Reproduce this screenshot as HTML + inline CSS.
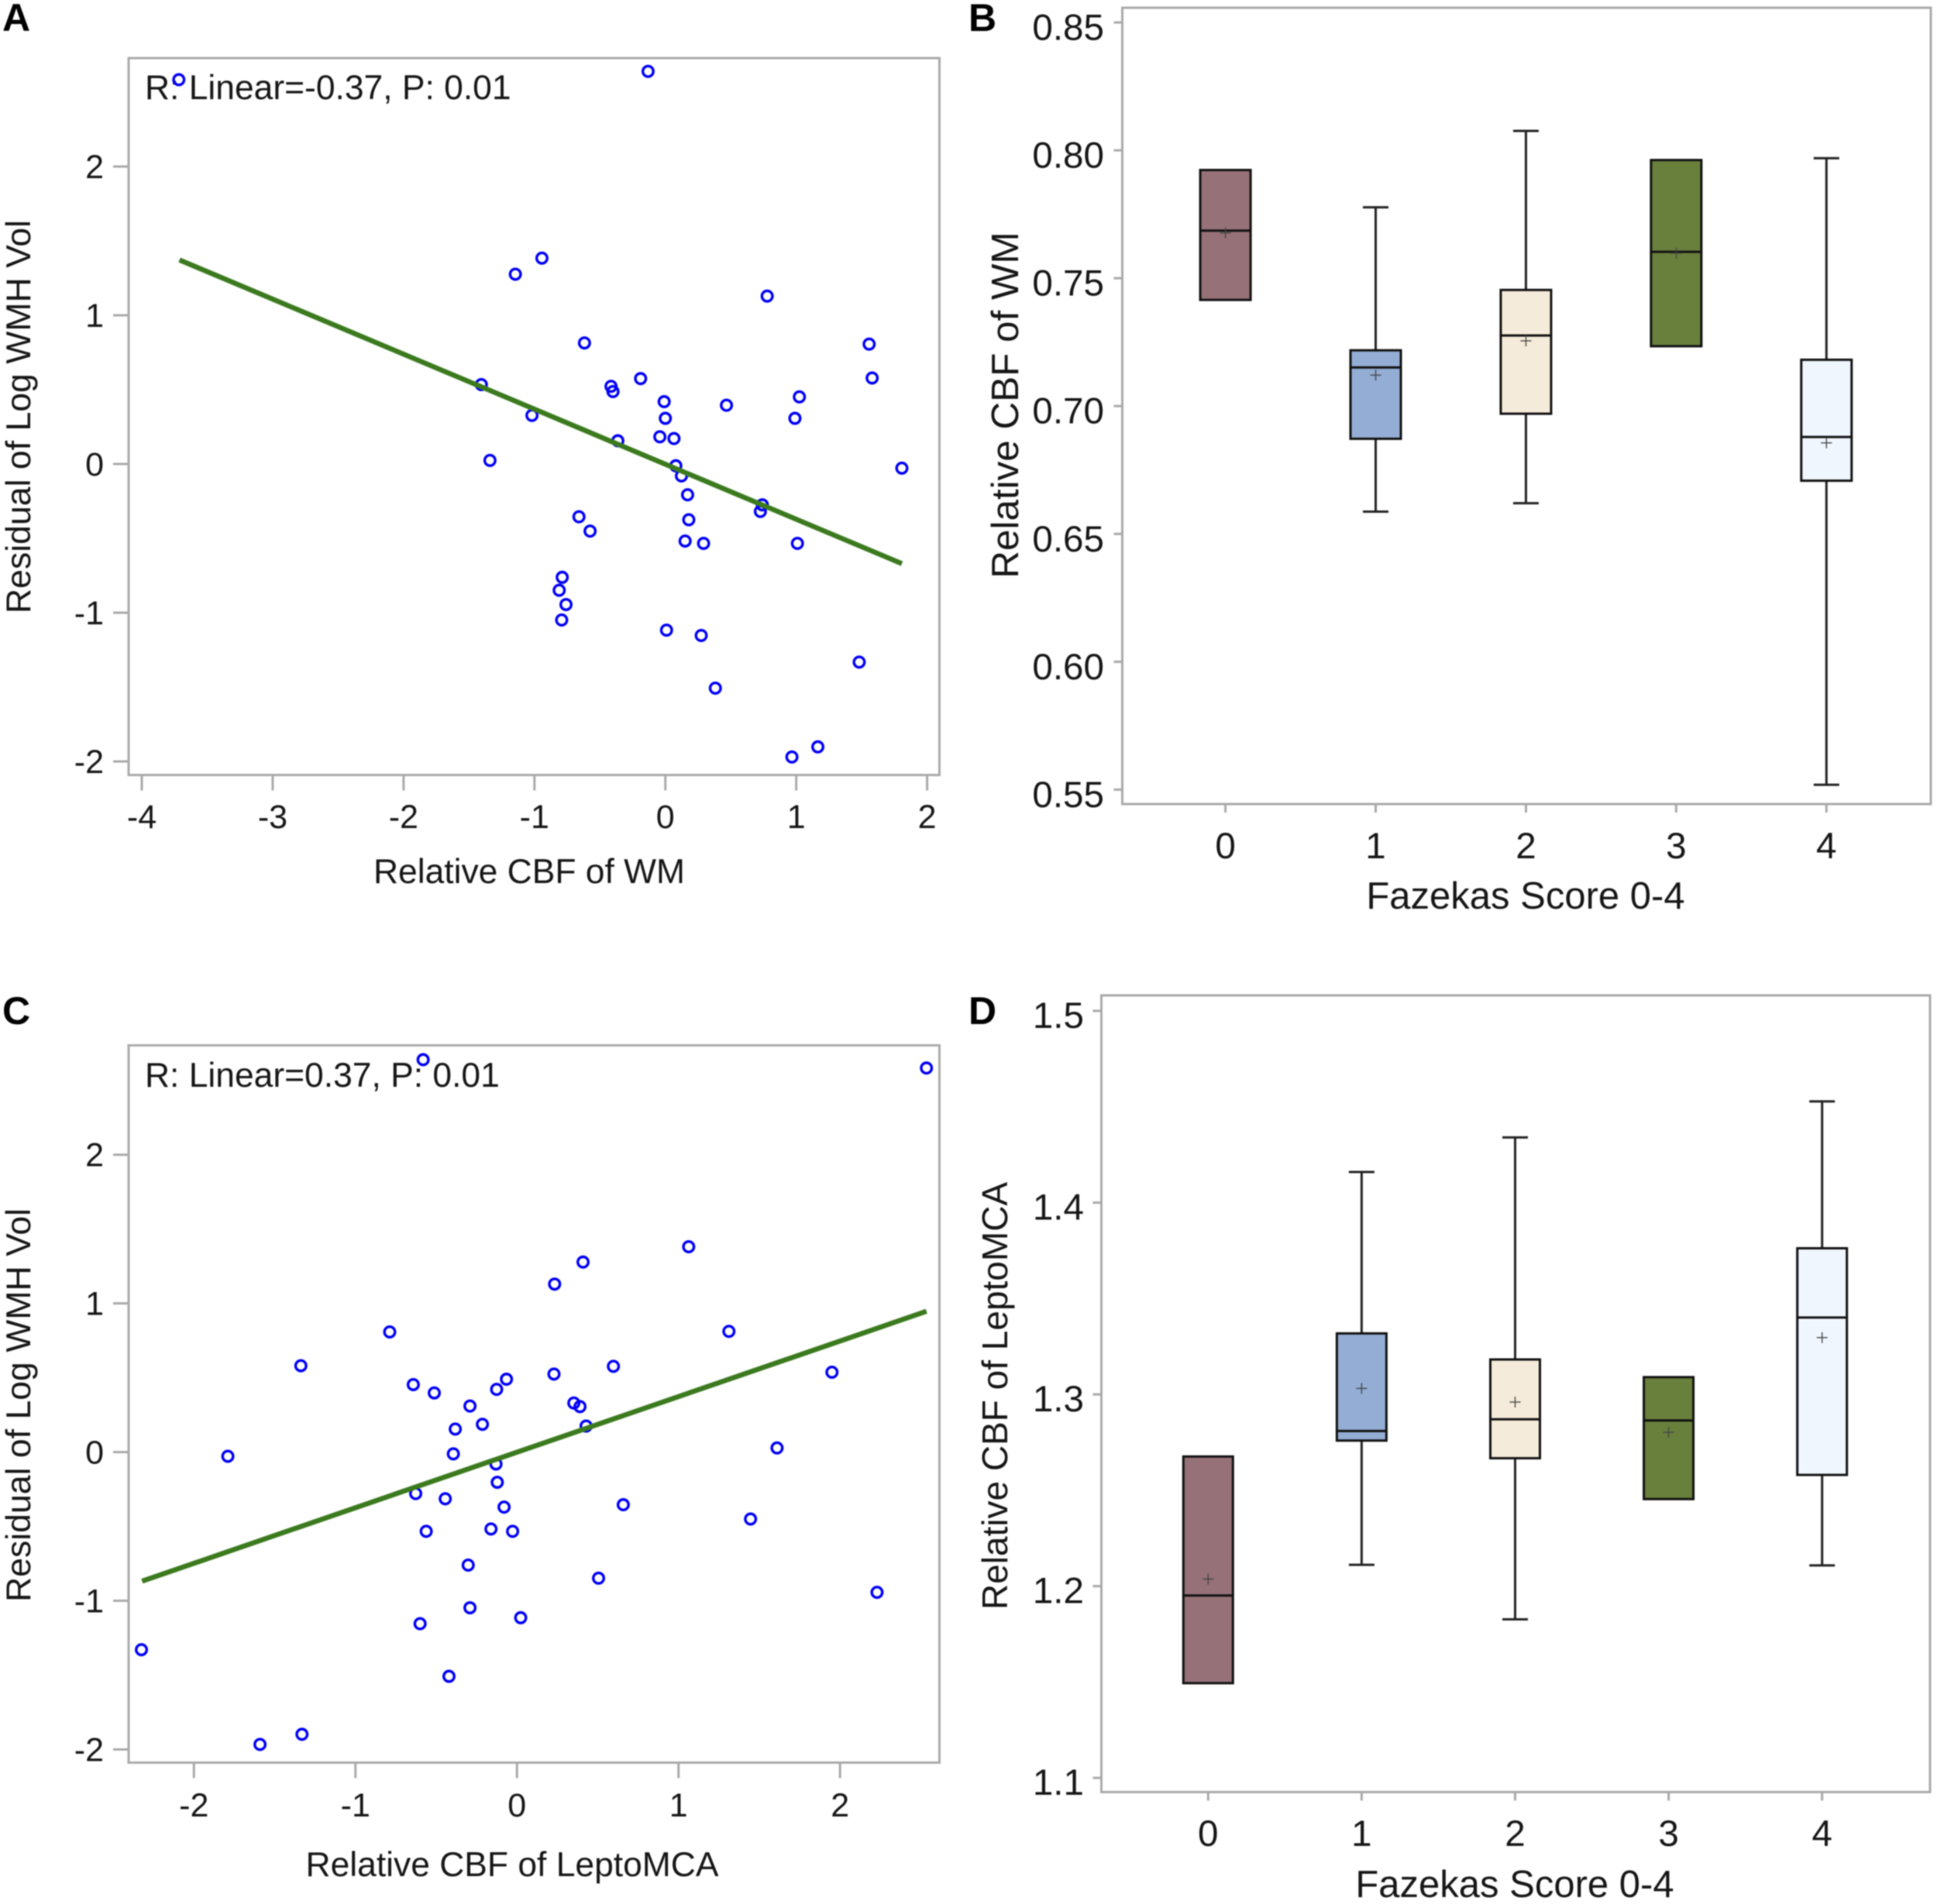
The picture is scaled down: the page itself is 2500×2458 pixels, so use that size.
<!DOCTYPE html>
<html lang="en">
<head>
<meta charset="utf-8">
<title>Relative CBF and white matter hyperintensity charts</title>
<style>
html,body{margin:0;padding:0;background:#fff;}
svg{display:block;filter:blur(0.7px);}
text{font-family:"Liberation Sans",Arial,sans-serif;fill:#161616;}
.letter{font-weight:bold;font-size:50px;fill:#000;}
</style>
</head>
<body>
<svg id="fig" xmlns="http://www.w3.org/2000/svg" width="2500" height="2458" viewBox="0 0 2500 2458">
  <rect x="0" y="0" width="2500" height="2458" fill="#ffffff"/>
  <text class="letter" x="3" y="40">A</text>
  <text class="letter" x="1250" y="40">B</text>
  <text class="letter" x="3" y="1322">C</text>
  <text class="letter" x="1250" y="1322">D</text>

  <text x="187" y="128" font-size="44.4">R: Linear=-0.37, P: 0.01</text>
  <text x="683" y="1140" font-size="44.4" text-anchor="middle">Relative CBF of WM</text>
  <text transform="translate(39 538) rotate(-90)" font-size="44.6" text-anchor="middle">Residual of Log WMH Vol</text>

  <text x="1969" y="1173" font-size="49" text-anchor="middle">Fazekas Score 0-4</text>
  <text transform="translate(1314 523) rotate(-90)" font-size="49.4" text-anchor="middle">Relative CBF of WM</text>

  <text x="187" y="1403" font-size="44.4">R: Linear=0.37, P: 0.01</text>
  <text x="661" y="2422" font-size="44.4" text-anchor="middle">Relative CBF of LeptoMCA</text>
  <text transform="translate(39 1814) rotate(-90)" font-size="44.6" text-anchor="middle">Residual of Log WMH Vol</text>

  <text x="1955" y="2449" font-size="49" text-anchor="middle">Fazekas Score 0-4</text>
  <text transform="translate(1300 1802) rotate(-90)" font-size="46" text-anchor="middle">Relative CBF of LeptoMCA</text>
</svg>
<script>
// Panel A data
var aXTicks = [-4, -3, -2, -1, 0, 1, 2];
var aYTicks = [-2, -1, 0, 1, 2];
var aPointsX = [-3.717,-0.132,-0.943,-1.146,0.778,-0.618,1.557,1.58,-0.189,-1.406,-0.415,-0.40,-0.009,1.024,0.467,0,0.99,-1.019,-0.042,0.066,-0.363,-1.34,0.08,1.807,0.123,0.17,0.741,0.726,-0.66,-0.575,0.179,0.151,0.292,1.009,-0.788,-0.811,-0.759,-0.792,0.009,0.274,1.481,0.382,1.165,0.967];
var aPointsY = [2.584,2.64,1.384,1.276,1.129,0.814,0.806,0.578,0.574,0.534,0.522,0.487,0.419,0.451,0.395,0.307,0.307,0.327,0.183,0.171,0.156,0.024,-0.012,-0.028,-0.08,-0.207,-0.275,-0.319,-0.355,-0.451,-0.375,-0.518,-0.534,-0.534,-0.762,-0.849,-0.945,-1.049,-1.117,-1.153,-1.332,-1.507,-1.902,-1.97];
var aFitX = [-3.712, 1.807];
var aFitY = [1.372, -0.67];

// Panel C data
var cXTicks = [-2, -1, 0, 1, 2];
var cYTicks = [-2, -1, 0, 1, 2];
var cPointsX = [-0.581,2.535,1.063,0.409,0.233,-0.788,1.312,-1.338,0.597,1.95,-0.642,-0.512,-0.065,-0.126,0.229,0.352,0.39,-0.291,-0.214,-0.382,0.428,1.61,-1.79,-0.394,-0.13,-0.122,-0.627,-0.444,-0.08,0.658,1.446,-0.562,-0.161,-0.027,-0.302,0.505,2.229,-0.291,0.023,-0.6,-2.325,-0.421,-1.331,-1.591];
var cPointsY = [2.639,2.583,1.381,1.278,1.13,0.808,0.812,0.581,0.577,0.537,0.454,0.398,0.49,0.422,0.525,0.33,0.306,0.31,0.187,0.155,0.175,0.028,-0.028,-0.012,-0.08,-0.203,-0.279,-0.314,-0.37,-0.354,-0.45,-0.533,-0.517,-0.533,-0.76,-0.848,-0.943,-1.047,-1.114,-1.154,-1.329,-1.508,-1.898,-1.966];
var cFitX = [-2.321, 2.535];
var cFitY = [-0.868, 0.947];

// Box plot shared data
var boxCategories = [0, 1, 2, 3, 4];
var boxColors = ['#967178', '#93add4', '#f5ebda', '#69803c', '#f0f6fd'];

// Panel B data
var bYTicks = ['0.55', '0.60', '0.65', '0.70', '0.75', '0.80', '0.85'];
var bLow = [null, 0.6587, 0.662, null, 0.5519];
var bQ1 = [0.7415, 0.6872, 0.697, 0.7234, 0.6708];
var bMedian = [0.7686, 0.7151, 0.7276, 0.7603, 0.6879];
var bMean = [0.7677, 0.7121, 0.7255, 0.7598, 0.6856];
var bQ3 = [0.7923, 0.7218, 0.7454, 0.7962, 0.7181];
var bHigh = [null, 0.7777, 0.8076, null, 0.7969];

// Panel D data
var dYTicks = ['1.1', '1.2', '1.3', '1.4', '1.5'];
var dLow = [null, 1.2111, 1.1827, null, 1.2108];
var dQ1 = [1.1494, 1.2759, 1.2667, 1.2454, 1.258];
var dMedian = [1.1951, 1.2809, 1.287, 1.2864, 1.3401];
var dMean = [1.2037, 1.3031, 1.296, 1.2802, 1.3296];
var dQ3 = [1.2676, 1.3318, 1.3182, 1.309, 1.3762];
var dHigh = [null, 1.416, 1.434, null, 1.4528];

var svg = document.getElementById('fig');
var NS = 'http://www.w3.org/2000/svg';
var GRAY = '#a9a9a9';

function linear(d0, d1, r0, r1) {
  return function (v) { return r0 + (Number(v) - d0) / (d1 - d0) * (r1 - r0); };
}
function el(tag, attrs, parent) {
  var n = document.createElementNS(NS, tag);
  for (var k in attrs) { n.setAttribute(k, attrs[k]); }
  parent.appendChild(n);
  return n;
}
function segment(parent, x1, y1, x2, y2, color, width, name) {
  var l = el('line', { x1: x1, y1: y1, x2: x2, y2: y2, stroke: color, 'stroke-width': width }, parent);
  
  
  return l;
}
function label(parent, x, y, size, anchor, str, name) {
  var t = el('text', { x: x, y: y, 'font-size': size, 'text-anchor': anchor }, parent);
  t.textContent = str;
  
  
  return t;
}
function frame(parent, f, name) {
  var r = el('rect', { x: f.l, y: f.t, width: f.r - f.l, height: f.b - f.t, fill: 'none', stroke: GRAY, 'stroke-width': 3 }, parent);
  
  
}
function panelGroup(name) {
  var g = el('g', {}, svg);
  
  
  return g;
}
function axes(g, f, sx, sy, xt, yt, o) {
  xt.forEach(function (v) {
    segment(g, sx(v), f.b, sx(v), f.b + o.tick, GRAY, 3, 'x-tick-mark');
    label(g, sx(v), o.xBase, o.size, 'middle', String(v), 'x-tick-label');
  });
  yt.forEach(function (v) {
    segment(g, f.l - o.tick, sy(v), f.l, sy(v), GRAY, 3, 'y-tick-mark');
    label(g, o.yRight, sy(v) + o.yOff, o.size, 'end', String(v), 'y-tick-label');
  });
}
function scatter(g, sx, sy, xs, ys, fx, fy) {
  xs.forEach(function (v, i) {
    var c = el('circle', { cx: sx(v), cy: sy(ys[i]), r: 6.8, fill: 'none', stroke: '#0000f5', 'stroke-width': 3.4 }, g);
    
    
  });
  segment(g, sx(fx[0]), sy(fy[0]), sx(fx[1]), sy(fy[1]), '#3b7a1e', 6.5, 'regression-line');
}
function boxes(g, sx, sy, hw, low, q1, med, mean, q3, high) {
  boxCategories.forEach(function (cat, i) {
    var x = sx(cat);
    var b = el('g', {}, g);
    
    
    if (high[i] !== null) {
      segment(b, x, sy(q3[i]), x, sy(high[i]), '#222', 3, 'upper-whisker');
      segment(b, x - 16.5, sy(high[i]), x + 16.5, sy(high[i]), '#222', 3, 'upper-whisker-cap');
    }
    if (low[i] !== null) {
      segment(b, x, sy(q1[i]), x, sy(low[i]), '#222', 3, 'lower-whisker');
      segment(b, x - 16.5, sy(low[i]), x + 16.5, sy(low[i]), '#222', 3, 'lower-whisker-cap');
    }
    var r = el('rect', { x: x - hw, y: sy(q3[i]), width: 2 * hw, height: sy(q1[i]) - sy(q3[i]), fill: boxColors[i], stroke: '#111', 'stroke-width': 3 }, b);
    
    
    segment(b, x - hw, sy(med[i]), x + hw, sy(med[i]), '#111', 3, 'median-line');
    var my = sy(mean[i]);
    segment(b, x - 7, my, x + 7, my, '#444', 1.4, 'mean-marker-horizontal');
    segment(b, x, my - 7, x, my + 7, '#444', 1.4, 'mean-marker-vertical');
  });
}

// Panel A
var fa = { l: 166, r: 1212.5, t: 75, b: 1000.5 };
var axA = linear(-4, 2, 183, 1196.6);
var ayA = linear(-2, 2, 983, 215);
var gA = panelGroup('panel-a-scatter');
frame(gA, fa, 'panel-a-frame');
axes(gA, fa, axA, ayA, aXTicks, aYTicks, { xBase: 1069, size: 43, yRight: 134, yOff: 15, tick: 20 });
scatter(gA, axA, ayA, aPointsX, aPointsY, aFitX, aFitY);

// Panel B
var fb = { l: 1448.5, r: 2492, t: 10, b: 1038 };
var axB = linear(0, 4, 1581.6, 2357.3);
var ayB = linear(0.55, 0.85, 1019.4, 29);
var gB = panelGroup('panel-b-boxplot');
frame(gB, fb, 'panel-b-frame');
axes(gB, fb, axB, ayB, boxCategories, bYTicks, { xBase: 1108, size: 47.6, yRight: 1425, yOff: 22.5, tick: 11 });
boxes(gB, axB, ayB, 32.5, bLow, bQ1, bMedian, bMean, bQ3, bHigh);

// Panel C
var fc = { l: 166, r: 1212.5, t: 1349.5, b: 2275.5 };
var axC = linear(-2, 2, 250.3, 1084.2);
var ayC = linear(-2, 2, 2258.5, 1490.7);
var gC = panelGroup('panel-c-scatter');
frame(gC, fc, 'panel-c-frame');
axes(gC, fc, axC, ayC, cXTicks, cYTicks, { xBase: 2345, size: 43, yRight: 134, yOff: 15, tick: 20 });
scatter(gC, axC, ayC, cPointsX, cPointsY, cFitX, cFitY);

// Panel D
var fd = { l: 1421.5, r: 2491, t: 1285, b: 2313.5 };
var axD = linear(0, 4, 1559.3, 2351.7);
var ayD = linear(1.1, 1.5, 2295.2, 1305);
var gD = panelGroup('panel-d-boxplot');
frame(gD, fd, 'panel-d-frame');
axes(gD, fd, axD, ayD, boxCategories, dYTicks, { xBase: 2383, size: 47.6, yRight: 1399, yOff: 22, tick: 11 });
boxes(gD, axD, ayD, 32, dLow, dQ1, dMedian, dMean, dQ3, dHigh);
</script>
</body>
</html>
